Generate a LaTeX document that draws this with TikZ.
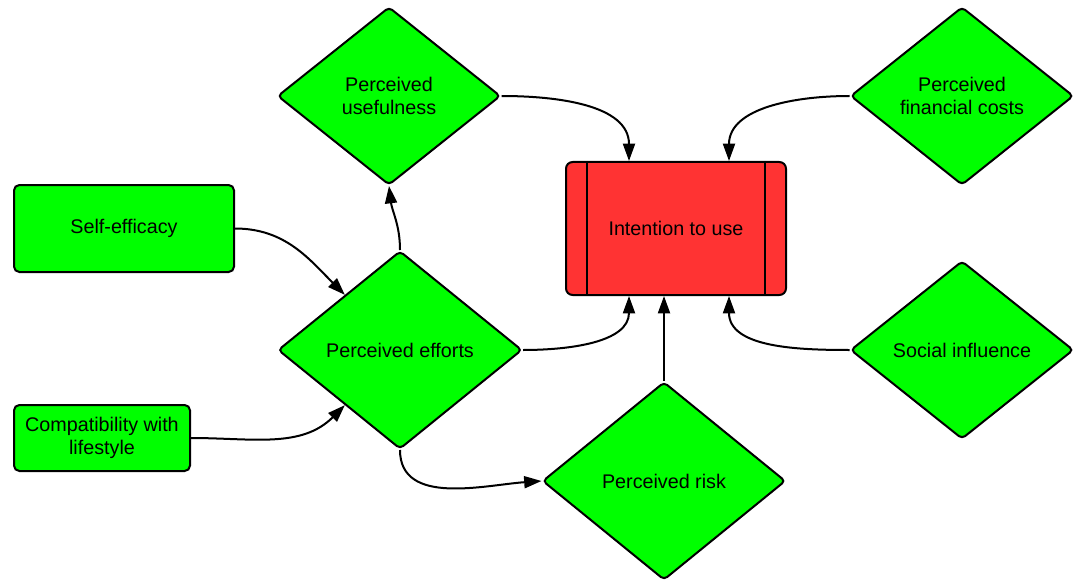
\documentclass[tikz,border=0pt]{standalone}
\usepackage{fontspec}
\setmainfont{Liberation Sans}
\usetikzlibrary{shapes.geometric,arrows.meta,calc}
\definecolor{boxgreen}{HTML}{00FF00}
\definecolor{boxred}{HTML}{FF3333}
\begin{document}
\begin{tikzpicture}[x=0.75pt,y=-0.75pt,
  every node/.style={font=\fontsize{14.8}{17.5}\selectfont,align=center,text=black},
  dia/.style={diamond,draw=black,line width=1.5pt,fill=boxgreen,rounded corners=3pt,inner sep=0pt,aspect=1.26},
  rbox/.style={rectangle,draw=black,line width=1.5pt,fill=boxgreen,rounded corners=4pt,inner sep=0pt},
  conn/.style={draw=black,line width=1.5pt,-{Triangle[length=13pt,width=9pt]}}]
\useasboundingbox (0,0) rectangle (1077,581);
\node[dia,minimum width=223*0.75pt,minimum height=178*0.75pt] (use) at (389,96) {Perceived\\usefulness};
\node[dia,minimum width=223*0.75pt,minimum height=178*0.75pt] (fin) at (962,96) {Perceived\\financial costs};
\node[dia,minimum width=244*0.75pt,minimum height=198*0.75pt] (eff) at (400,350) {Perceived efforts};
\node[dia,minimum width=223*0.75pt,minimum height=178*0.75pt] (soc) at (962,350) {Social influence};
\node[dia,minimum width=243*0.75pt,minimum height=198*0.75pt] (risk) at (664,481) {Perceived risk};
\node[rbox,minimum width=220*0.75pt,minimum height=87*0.75pt] (self) at (124,228.5) {Self-efficacy};
\node[rbox,minimum width=176*0.75pt,minimum height=66*0.75pt] (comp) at (102,438) {Compatibility with\\lifestyle};
\node[rectangle,draw=black,line width=1.5pt,fill=boxred,rounded corners=5pt,inner sep=0pt,minimum width=220*0.75pt,minimum height=133*0.75pt] (int) at (676,228.5) {Intention to use};
\draw[line width=1.5pt] ($(int.north west)+(22,0)$) -- ($(int.south west)+(22,0)$);
\draw[line width=1.5pt] ($(int.north east)+(-22,0)$) -- ($(int.south east)+(-22,0)$);
\coordinate (it1) at ($(int.north west)+(64,0)$);
\coordinate (it2) at ($(int.north west)+(164,0)$);
\coordinate (ib1) at ($(int.south west)+(64,0)$);
\coordinate (ib3) at ($(int.south west)+(164,0)$);
\coordinate (ib2) at (int.south -| risk.north);
\draw[conn] (use.east) to[out=0,in=90] (it1);
\draw[conn] (fin.west) to[out=180,in=90] (it2);
\draw[conn] (self.east) to[out=0,in=135] (eff.135);
\draw[conn] (comp.east) to[out=0,in=-135] (eff.225);
\draw[conn] (eff.north) .. controls ($(eff.north)+(0,-25)$) and ($(use.south)+(3,25)$) .. (use.south);
\draw[conn] (eff.east) to[out=0,in=-90] (ib1);
\draw[conn] (risk.north) -- (ib2);
\draw[conn] (soc.west) to[out=180,in=-90] (ib3);
\draw[conn] (eff.south) to[out=-90,in=184] (risk.west);
\end{tikzpicture}
\end{document}
